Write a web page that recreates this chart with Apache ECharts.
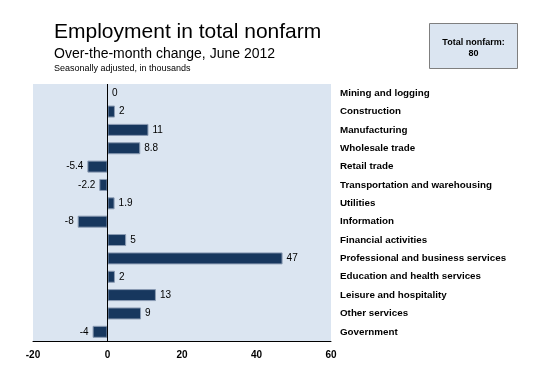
<!DOCTYPE html>
<html><head><meta charset="utf-8">
<script src="https://cdn.jsdelivr.net/npm/echarts@6/dist/echarts.min.js"></script>
<style>html,body{margin:0;padding:0;background:#fff}#c{width:550px;height:367px}</style>
</head><body><div id="c"></div>
<script>
const categories = ["Mining and logging","Construction","Manufacturing","Wholesale trade","Retail trade","Transportation and warehousing","Utilities","Information","Financial activities","Professional and business services","Education and health services","Leisure and hospitality","Other services","Government"];
const values = [0,2,11,8.8,-5.4,-2.2,1.9,-8,5,47,2,13,9,-4];
const xTicks = [-20,0,20,40,60];
const totalNonfarm = 80;
const FONT = "Liberation Sans";
const chart = echarts.init(document.getElementById('c'));
chart.setOption({
  animation:false,
  textStyle:{fontFamily:FONT},
  title:[
    {text:"Employment in total nonfarm",left:49,top:17,textStyle:{fontFamily:FONT,fontSize:21,fontWeight:'normal',color:'#000'}},
    {text:"Over-the-month change, June 2012",left:49,top:42,textStyle:{fontFamily:FONT,fontSize:14,fontWeight:'normal',color:'#000'}},
    {text:"Seasonally adjusted, in thousands",left:49,top:59,textStyle:{fontFamily:FONT,fontSize:9,fontWeight:'normal',color:'#000',width:160,overflow:'none'}}
  ],
  graphic:[
    {type:'rect',shape:{x:429.5,y:23.5,width:88,height:45},style:{fill:'#dbe5f1',stroke:'#7f7f7f',lineWidth:1}},
    {type:'text',x:473.5,y:37,style:{text:"Total nonfarm:\n"+totalNonfarm,align:'center',font:"bold 9px "+FONT,fill:'#000',lineHeight:11}}
  ],
  grid:{left:33,right:219,top:84,bottom:26,show:true,backgroundColor:'#dbe5f1',borderWidth:0,containLabel:false},
  xAxis:{type:'value',min:xTicks[0],max:xTicks[xTicks.length-1],interval:20,
    axisLine:{show:true,lineStyle:{color:'#000',width:1}},
    axisTick:{show:false},
    splitLine:{show:false},
    axisLabel:{color:'#000',fontWeight:'bold',fontSize:10,margin:9}},
  yAxis:{type:'category',data:categories,inverse:true,position:'right',
    axisLine:{show:false},axisTick:{show:false},
    axisLabel:{color:'#000',fontWeight:'bold',fontSize:9.8,margin:9,align:'left'}},
  series:[{type:'bar',barWidth:12,
    data:values.map(v=>({value:v,label:{position:v<0?'left':'right'}})),
    itemStyle:{color:'#17375e',borderColor:'#8a9bb3',borderWidth:1},
    label:{show:true,color:'#000',fontSize:10,distance:4,formatter:p=>String(p.value)},
    markLine:{silent:true,symbol:'none',label:{show:false},lineStyle:{color:'#000',width:1,type:'solid'},data:[{xAxis:0}]}
  }]
});
</script></body></html>
